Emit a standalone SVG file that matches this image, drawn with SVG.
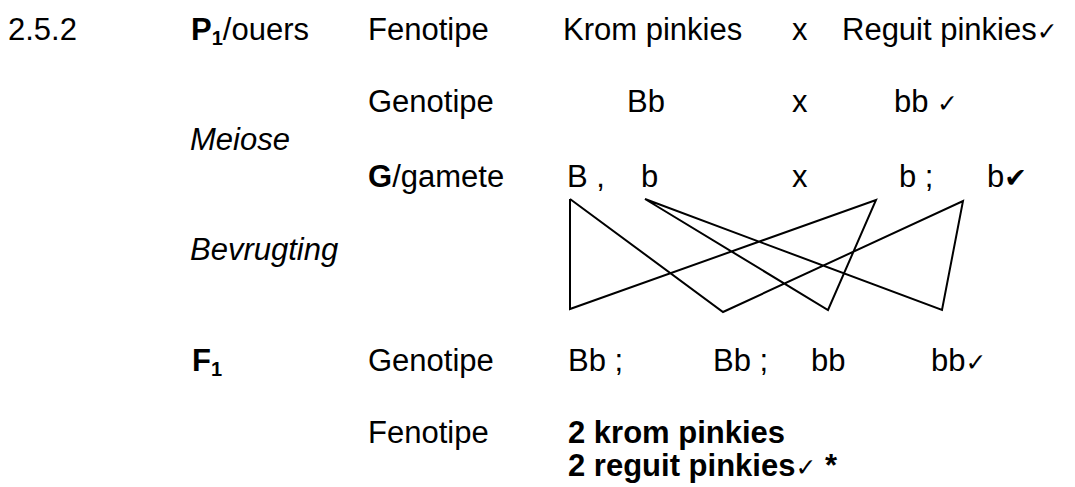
<svg xmlns="http://www.w3.org/2000/svg" width="1075" height="487" viewBox="0 0 1075 487">
<style>
text{font-family:"Liberation Sans",Arial,sans-serif;font-size:31px;fill:#000}
.b{font-weight:bold}
.i{font-style:italic}
.sub{font-size:20px}
.ck{font-family:"DejaVu Sans",sans-serif;font-size:25px;font-weight:normal}
.ckb{font-family:"DejaVu Sans",sans-serif;font-size:27px}
.ln{stroke:#000;stroke-width:2;fill:none;stroke-linejoin:miter}
</style>
<rect width="1075" height="487" fill="#fff"/>
<g id="row-p1">
<text x="8" y="40">2.5.2</text>
<text x="191" y="40"><tspan class="b">P</tspan><tspan class="b sub" dy="5">1</tspan><tspan dy="-5">/ouers</tspan></text>
<text x="368" y="40">Fenotipe</text>
<text x="563" y="40">Krom pinkies</text>
<text x="792" y="40">x</text>
<text x="842" y="40">Reguit pinkies<tspan class="ck">✓</tspan></text>
</g>
<g id="row-genotipe">
<text x="368" y="112">Genotipe</text>
<text x="627" y="112">Bb</text>
<text x="792" y="112">x</text>
<text x="894" y="112">bb <tspan class="ck">✓</tspan></text>
</g>
<g id="label-meiose">
<text class="i" x="190" y="150">Meiose</text>
</g>
<g id="row-gamete">
<text x="368" y="187"><tspan class="b">G</tspan>/gamete</text>
<text x="567" y="187">B ,</text>
<text x="641" y="187">b</text>
<text x="792" y="187">x</text>
<text x="899" y="187">b ;</text>
<text x="987" y="187">b<tspan class="ckb">✔</tspan></text>
</g>
<g id="label-bevrugting">
<text class="i" x="190" y="260">Bevrugting</text>
</g>
<g id="connectors">
<polyline class="ln" points="570,199 570,309 876,200 828,310 645,199 942,310 963,201 723,312 570,199"/>
</g>
<g id="row-f1">
<text class="b" x="192" y="371">F<tspan class="sub" dy="5">1</tspan></text>
<text x="368" y="371">Genotipe</text>
<text x="568" y="371">Bb  ;</text>
<text x="713" y="371">Bb  ;</text>
<text x="811" y="371">bb</text>
<text x="931" y="371">bb<tspan class="ck">✓</tspan></text>
</g>
<g id="row-fenotipe">
<text x="368" y="443">Fenotipe</text>
<text class="b" x="568" y="443">2 krom pinkies</text>
<text class="b" x="568" y="476">2 reguit pinkies<tspan class="ck">✓</tspan> *</text>
</g>
</svg>
